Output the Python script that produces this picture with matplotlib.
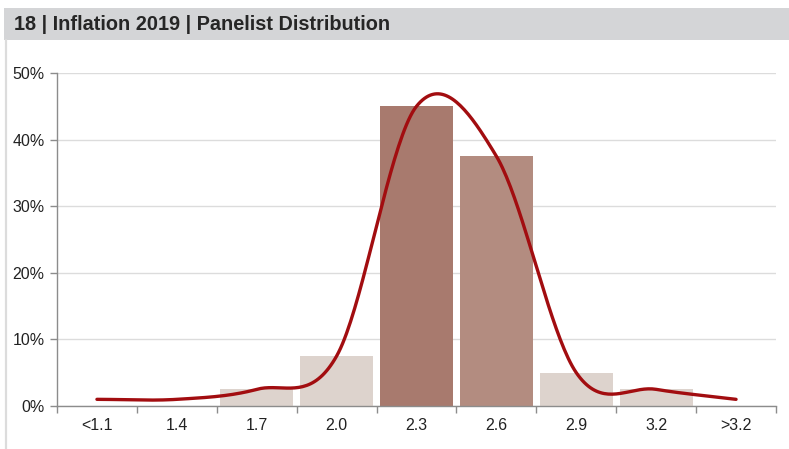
import numpy as np
import matplotlib.pyplot as plt
from matplotlib.patches import Rectangle
from matplotlib.lines import Line2D

plt.rcParams['font.family'] = ['Liberation Sans', 'DejaVu Sans']

categories = ['<1.1', '1.4', '1.7', '2.0', '2.3', '2.6', '2.9', '3.2', '>3.2']
share = [0.0, 0.0, 2.5, 7.5, 45.0, 37.5, 5.0, 2.5, 0.0]
curve = [1.0, 1.0, 2.5, 7.5, 45.0, 37.5, 5.0, 2.5, 1.0]
bar_colors = ['#ddd3cd', '#ddd3cd', '#ddd3cd', '#ddd3cd', '#a87a6e',
              '#b38c80', '#ddd3cd', '#ddd3cd', '#ddd3cd']


def catmull_rom(y, n=40):
    # smooth line through every point, like a spreadsheet "smoothed line"
    y = np.asarray(y, dtype=float)
    p = np.concatenate([[y[0]], y, [y[-1]]])
    xs, ys = [], []
    for i in range(len(y) - 1):
        p0, p1, p2, p3 = p[i], p[i + 1], p[i + 2], p[i + 3]
        if i == 0:
            p0 = 2 * p1 - p2
        if i == len(y) - 2:
            p3 = 2 * p2 - p1
        t = np.linspace(0, 1, n, endpoint=False)
        m1 = (p2 - p0) / 2
        m2 = (p3 - p1) / 2
        h00 = 2 * t**3 - 3 * t**2 + 1
        h10 = t**3 - 2 * t**2 + t
        h01 = -2 * t**3 + 3 * t**2
        h11 = t**3 - t**2
        xs.append(i + t)
        ys.append(h00 * p1 + h10 * m1 + h01 * p2 + h11 * m2)
    xs.append([len(y) - 1])
    ys.append([y[-1]])
    return np.concatenate(xs), np.concatenate(ys)


fig = plt.figure(figsize=(7.89, 4.49), dpi=100)

# header band and left frame
fig.patches.append(Rectangle((4 / 789, 1 - 40 / 449), 785 / 789, 32 / 449,
                             transform=fig.transFigure, facecolor='#d4d5d7',
                             edgecolor='none', zorder=0))
fig.lines.append(Line2D([6 / 789, 6 / 789], [0, 1 - 40 / 449],
                        transform=fig.transFigure, color='#dcdcdc', lw=1.6))
fig.text(14 / 789, 1 - 24.5 / 449, '18 | Inflation 2019 | Panelist Distribution',
         fontsize=14.3, fontweight='bold', color='#262626', va='center', ha='left')

ax = fig.add_axes([57 / 789, 1 - 406 / 449, 719 / 789, 333 / 449])
x = np.arange(len(categories))
ax.bar(x, share, width=0.91, color=bar_colors, zorder=2)
cx, cy = catmull_rom(curve)
ax.plot(cx, cy, color='#a20d10', lw=2.4, solid_capstyle='round', zorder=3)

ax.set_xlim(-0.5, len(categories) - 0.5)
ax.set_ylim(0, 50)
ax.set_yticks(np.arange(0, 51, 10))
ax.set_yticklabels([f'{v}%' for v in range(0, 51, 10)])
ax.set_xticks(x)
ax.set_xticklabels(categories)
ax.set_xticks(np.arange(-0.5, len(categories), 1), minor=True)
ax.tick_params(axis='x', which='major', length=0, pad=9, labelsize=11.5, colors='#222222')
ax.tick_params(axis='x', which='minor', length=5, color='#8c8c8c', width=1)
ax.tick_params(axis='y', length=5, color='#8c8c8c', width=1, pad=4,
               labelsize=11.5, labelcolor='#222222')
ax.grid(axis='y', color='#dcdcdc', lw=1, zorder=0)
ax.set_axisbelow(True)
for side in ['top', 'right']:
    ax.spines[side].set_visible(False)
for side in ['left', 'bottom']:
    ax.spines[side].set_color('#8c8c8c')
    ax.spines[side].set_linewidth(1)

fig.savefig('out.png', dpi=100)
